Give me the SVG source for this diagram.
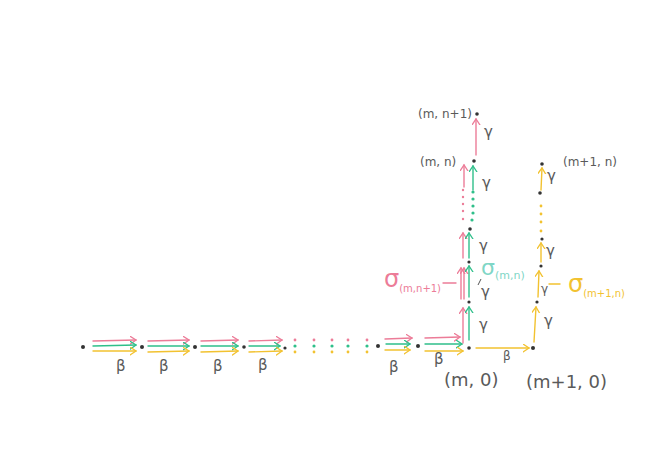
<svg xmlns="http://www.w3.org/2000/svg" width="660" height="466" viewBox="0 0 660 466">
<defs>
<style>
.p{stroke:#ec7c98;fill:none;stroke-width:1.4;stroke-linecap:round;stroke-linejoin:round}
.g{stroke:#2fbf8a;fill:none;stroke-width:1.4;stroke-linecap:round;stroke-linejoin:round}
.y{stroke:#f2c230;fill:none;stroke-width:1.4;stroke-linecap:round;stroke-linejoin:round}
.pa{marker-end:url(#mp)}
.ga{marker-end:url(#mg)}
.ya{marker-end:url(#my)}
.dot{fill:#333}
.pd{fill:#ec7c98}
.gd{fill:#2fbf8a}
.yd{fill:#f2c230}
text{font-family:"DejaVu Sans","Liberation Sans",sans-serif;fill:#5a5a5a}
.lbl{font-size:12px}
.big{font-size:18px}
.gr{font-size:15px}
</style>
<marker id="mp" markerWidth="10" markerHeight="10" refX="6" refY="4" orient="auto" markerUnits="userSpaceOnUse"><path d="M0,0 L6,4 L0,8" fill="none" stroke="#ec7c98" stroke-width="1.3" stroke-linecap="round"/></marker>
<marker id="mg" markerWidth="10" markerHeight="10" refX="6" refY="4" orient="auto" markerUnits="userSpaceOnUse"><path d="M0,0 L6,4 L0,8" fill="none" stroke="#2fbf8a" stroke-width="1.3" stroke-linecap="round"/></marker>
<marker id="my" markerWidth="10" markerHeight="10" refX="6" refY="4" orient="auto" markerUnits="userSpaceOnUse"><path d="M0,0 L6,4 L0,8" fill="none" stroke="#f2c230" stroke-width="1.3" stroke-linecap="round"/></marker>
</defs>
<rect width="660" height="466" fill="#ffffff"/>

<g id="connectors">
  <path class="p pa" d="M93,341 L136,340"/>
  <path class="g ga" d="M93,346 L136,345"/>
  <path class="y ya" d="M93,351 L136,351"/>
  <path class="p pa" d="M148,341 L189,340"/>
  <path class="g ga" d="M148,346 L189,346"/>
  <path class="y ya" d="M148,352 L189,351"/>
  <path class="p pa" d="M201,341 L238,340"/>
  <path class="g ga" d="M201,346 L238,346"/>
  <path class="y ya" d="M201,352 L238,351"/>
  <path class="p pa" d="M249,341 L282,340"/>
  <path class="g ga" d="M249,346 L280,346"/>
  <path class="y ya" d="M249,352 L282,351"/>
  <path class="p pa" d="M385,339 L412,338"/>
  <path class="g ga" d="M386,344 L410,344"/>
  <path class="y ya" d="M385,350 L410,350"/>
  <path class="p pa" d="M425,338 L460,337"/>
  <path class="g ga" d="M425,344 L462,344"/>
  <path class="y ya" d="M425,351 L463,351"/>
  <path class="y ya" d="M476,348 L529,348"/>
  <g>
    <circle class="pd" cx="295" cy="340" r="1.4"/><circle class="gd" cx="295" cy="346" r="1.6"/><circle class="yd" cx="295" cy="352" r="1.4"/>
    <circle class="pd" cx="314" cy="340" r="1.4"/><circle class="gd" cx="314" cy="346" r="1.6"/><circle class="yd" cx="314" cy="352" r="1.4"/>
    <circle class="pd" cx="332" cy="340" r="1.4"/><circle class="gd" cx="332" cy="346" r="1.6"/><circle class="yd" cx="332" cy="352" r="1.4"/>
    <circle class="pd" cx="348" cy="340" r="1.4"/><circle class="gd" cx="348" cy="346" r="1.6"/><circle class="yd" cx="348" cy="352" r="1.4"/>
    <circle class="pd" cx="367" cy="340" r="1.4"/><circle class="gd" cx="367" cy="346" r="1.6"/><circle class="yd" cx="367" cy="352" r="1.4"/>
  </g>
  <path class="p pa" d="M463,343 L463,308"/>
  <path class="g ga" d="M469,340 L469,307"/>
  <path class="p pa" d="M461,299 L461,268"/>
  <path class="p pa" d="M464,299 L464,268"/>
  <path class="g ga" d="M469,297 L469,266"/>
  <path class="p pa" d="M463,258 L463,233"/>
  <path class="g ga" d="M469,258 L469,233"/>
  <g>
    <circle class="pd" cx="463" cy="190" r="1.2"/><circle class="pd" cx="463" cy="197" r="1.2"/><circle class="pd" cx="463" cy="204" r="1.2"/><circle class="pd" cx="463" cy="211" r="1.2"/><circle class="pd" cx="463" cy="219" r="1.2"/>
    <circle class="gd" cx="473" cy="192" r="1.6"/><circle class="gd" cx="473" cy="199" r="1.6"/><circle class="gd" cx="473" cy="206" r="1.6"/><circle class="gd" cx="473" cy="213" r="1.6"/><circle class="gd" cx="472" cy="220" r="1.6"/>
  </g>
  <path class="p pa" d="M464,187 L464,165"/>
  <path class="g ga" d="M473,190 L473,166"/>
  <path class="p pa" d="M476,155 L476,119"/>
  <path d="M478,285 L481,279" stroke="#555" stroke-width="1" fill="none"/>
  <path class="y ya" d="M534,342 L536,307"/>
  <path class="y ya" d="M538,297 L539,271"/>
  <path class="y ya" d="M541,262 L541,243"/>
  <g>
    <circle class="yd" cx="541" cy="206" r="1.4"/><circle class="yd" cx="541" cy="214" r="1.4"/><circle class="yd" cx="541" cy="222" r="1.4"/><circle class="yd" cx="541" cy="231" r="1.4"/>
  </g>
  <path class="y ya" d="M541,190 L542,168"/>
  <path class="p" d="M443,283 L456,283"/>
  <path class="y" d="M549,284 L560,284"/>
</g>

<g id="n-r0"><circle class="dot" cx="83" cy="347" r="2"/></g>
<g id="n-r1"><circle class="dot" cx="142" cy="347" r="2"/></g>
<g id="n-r2"><circle class="dot" cx="195" cy="347" r="2"/></g>
<g id="n-r3"><circle class="dot" cx="244" cy="347" r="1.8"/></g>
<g id="n-r4"><circle class="dot" cx="285" cy="348" r="1.6"/></g>
<g id="n-r5"><circle class="dot" cx="378" cy="346" r="2"/></g>
<g id="n-r6"><circle class="dot" cx="418" cy="346" r="2"/></g>
<g id="n-m0"><circle class="dot" cx="469" cy="348" r="1.8"/><text class="big" x="444" y="386">(m, 0)</text></g>
<g id="n-m1"><circle class="dot" cx="469" cy="302" r="1.6"/></g>
<g id="n-m2"><circle class="dot" cx="469" cy="262" r="1.6"/></g>
<g id="n-m3"><circle class="dot" cx="470" cy="229" r="1.8"/></g>
<g id="n-mn"><circle class="dot" cx="474" cy="161" r="1.8"/><text class="lbl" x="420" y="166">(m, n)</text></g>
<g id="n-mn1"><circle class="dot" cx="477" cy="114" r="1.8"/><text class="lbl" x="418" y="118">(m, n+1)</text></g>
<g id="n-m10"><circle class="dot" cx="533" cy="348" r="2"/><text class="big" x="526" y="388">(m+1, 0)</text></g>
<g id="n-m11"><circle class="dot" cx="537" cy="302" r="1.6"/></g>
<g id="n-m12"><circle class="dot" cx="541" cy="266" r="1.6"/></g>
<g id="n-m13"><circle class="dot" cx="542" cy="239" r="1.6"/></g>
<g id="n-m14"><circle class="dot" cx="540" cy="193" r="1.8"/></g>
<g id="n-m1n"><circle class="dot" cx="542" cy="164" r="1.8"/><text class="lbl" x="563" y="166">(m+1, n)</text></g>

<g id="labels">
  <text class="gr" x="116" y="371">β</text>
  <text class="gr" x="159" y="371">β</text>
  <text class="gr" x="213" y="371">β</text>
  <text class="gr" x="258" y="370">β</text>
  <text class="gr" x="389" y="372">β</text>
  <text class="gr" x="434" y="364">β</text>
  <text class="gr" x="503" y="360" style="font-size:12px">β</text>
  <text class="gr" x="479" y="330">γ</text>
  <text class="gr" x="481" y="297">γ</text>
  <text class="gr" x="479" y="251">γ</text>
  <text class="gr" x="482" y="188">γ</text>
  <text class="gr" x="484" y="137">γ</text>
  <text class="gr" x="544" y="326">γ</text>
  <text class="gr" x="541" y="293" style="font-size:12px">γ</text>
  <text class="gr" x="546" y="256">γ</text>
  <text class="gr" x="547" y="181">γ</text>
  <text x="384" y="287" style="font-size:24px;fill:#ec7c98">σ<tspan dy="5" style="font-size:10px;fill:#ec7c98">(m,n+1)</tspan></text>
  <text x="481" y="275" style="font-size:22px;fill:#7fd6c6">σ<tspan dy="4" style="font-size:11px;fill:#7fd6c6">(m,n)</tspan></text>
  <text x="568" y="292" style="font-size:24px;fill:#f2c230">σ<tspan dy="5" style="font-size:10px;fill:#f2c230">(m+1,n)</tspan></text>
</g>
</svg>
